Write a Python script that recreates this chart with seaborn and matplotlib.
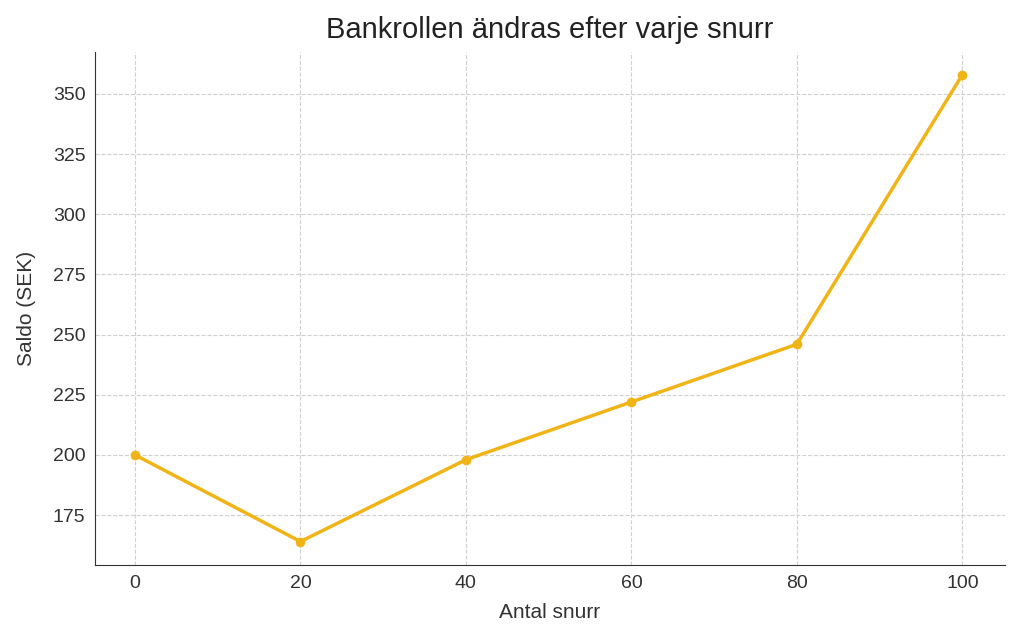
import matplotlib
matplotlib.use("Agg")
import matplotlib.pyplot as plt
import seaborn as sns
import pandas as pd

spins = [0, 20, 40, 60, 80, 100]
balance = [200, 164, 198, 222, 246, 358]

sns.set_style("whitegrid", {"grid.linestyle": "--", "grid.color": "#d0d0d0"})
plt.rcParams['font.family'] = ['Liberation Sans', 'DejaVu Sans']
df = pd.DataFrame({"Antal snurr": spins, "Saldo (SEK)": balance})

fig, ax = plt.subplots(figsize=(10.24, 6.4), dpi=100)
fig.subplots_adjust(left=0.093, right=0.981, top=0.919, bottom=0.117)
sns.lineplot(data=df, x="Antal snurr", y="Saldo (SEK)", marker="o", color="#F0B416",
             linewidth=2.5, markersize=7, markeredgewidth=0, ax=ax)
ax.set_xlim(-4.8, 105.1)
ax.set_ylim(154.2, 367.5)
ax.set_xticks(spins)
ax.set_yticks(range(175, 351, 25))
ax.set_title("Bankrollen ändras efter varje snurr", fontsize=21, color="#222222", pad=10)
ax.set_xlabel("Antal snurr", fontsize=15, color="#333333", labelpad=8)
ax.set_ylabel("Saldo (SEK)", fontsize=15, color="#333333", labelpad=12)
ax.tick_params(labelsize=14, colors="#333333")
for s in ["top", "right"]:
    ax.spines[s].set_visible(False)
for s in ["left", "bottom"]:
    ax.spines[s].set_color("#333333")
fig.savefig("out.png")
